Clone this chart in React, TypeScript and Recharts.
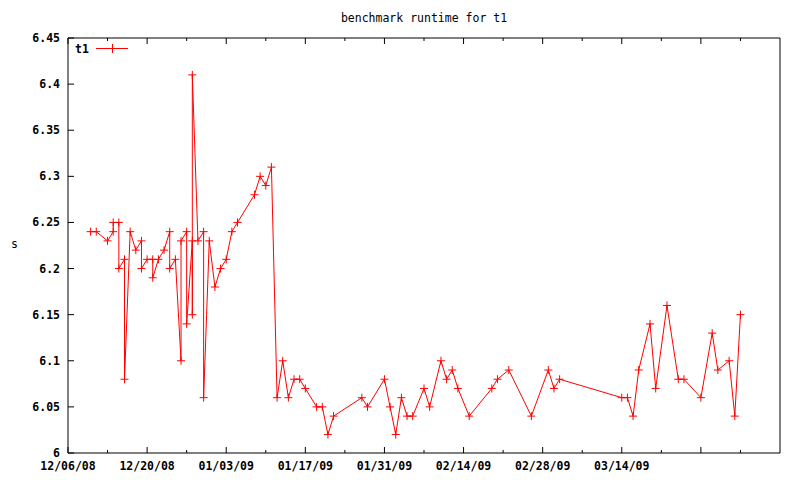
import React from "react";
import { LineChart, Line, XAxis, YAxis, ReferenceArea } from "recharts";

const dates = [
  "2008-12-10", "2008-12-11", "2008-12-13", "2008-12-14", "2008-12-14",
  "2008-12-15", "2008-12-15", "2008-12-16", "2008-12-16", "2008-12-17",
  "2008-12-18", "2008-12-19", "2008-12-19", "2008-12-20", "2008-12-21",
  "2008-12-21", "2008-12-22", "2008-12-23", "2008-12-24", "2008-12-24",
  "2008-12-25", "2008-12-26", "2008-12-26", "2008-12-27", "2008-12-27",
  "2008-12-28", "2008-12-28", "2008-12-28", "2008-12-29", "2008-12-30",
  "2008-12-30", "2008-12-31", "2009-01-01", "2009-01-02", "2009-01-03",
  "2009-01-04", "2009-01-05", "2009-01-08", "2009-01-09", "2009-01-10",
  "2009-01-11", "2009-01-12", "2009-01-13", "2009-01-14", "2009-01-15",
  "2009-01-16", "2009-01-17", "2009-01-19", "2009-01-20", "2009-01-21",
  "2009-01-22", "2009-01-27", "2009-01-28", "2009-01-31", "2009-02-01",
  "2009-02-02", "2009-02-03", "2009-02-04", "2009-02-05", "2009-02-07",
  "2009-02-08", "2009-02-10", "2009-02-11", "2009-02-12", "2009-02-13",
  "2009-02-15", "2009-02-19", "2009-02-20", "2009-02-22", "2009-02-26",
  "2009-03-01", "2009-03-02", "2009-03-03", "2009-03-14", "2009-03-15",
  "2009-03-16", "2009-03-17", "2009-03-19", "2009-03-20", "2009-03-22",
  "2009-03-24", "2009-03-25", "2009-03-28", "2009-03-30", "2009-03-31",
  "2009-04-02", "2009-04-03", "2009-04-04",
];

const runtimes = [
  6.24, 6.24, 6.23, 6.24, 6.25,
  6.25, 6.2, 6.21, 6.08, 6.24,
  6.22, 6.23, 6.2, 6.21, 6.21,
  6.19, 6.21, 6.22, 6.24, 6.2,
  6.21, 6.1, 6.23, 6.24, 6.14,
  6.23, 6.15, 6.41, 6.23, 6.24,
  6.06, 6.23, 6.18, 6.2, 6.21,
  6.24, 6.25, 6.28, 6.3, 6.29,
  6.31, 6.06, 6.1, 6.06, 6.08,
  6.08, 6.07, 6.05, 6.05, 6.02,
  6.04, 6.06, 6.05, 6.08, 6.05,
  6.02, 6.06, 6.04, 6.04, 6.07,
  6.05, 6.1, 6.08, 6.09, 6.07,
  6.04, 6.07, 6.08, 6.09, 6.04,
  6.09, 6.07, 6.08, 6.06, 6.06,
  6.04, 6.09, 6.14, 6.07, 6.16,
  6.08, 6.08, 6.06, 6.13, 6.09,
  6.1, 6.04, 6.15,
];

const startDate = "2008-12-06";
const endDate = "2009-04-11";
const xTickDates = [
  "2008-12-06", "2008-12-20", "2009-01-03", "2009-01-17", "2009-01-31",
  "2009-02-14", "2009-02-28", "2009-03-14", "2009-03-28",
];
const xTickLabels = [
  "12/06/08", "12/20/08", "01/03/09", "01/17/09", "01/31/09",
  "02/14/09", "02/28/09", "03/14/09", "",
];
const yTicks = [6, 6.05, 6.1, 6.15, 6.2, 6.25, 6.3, 6.35, 6.4, 6.45];
const yTickLabels = ["6", "6.05", "6.1", "6.15", "6.2", "6.25", "6.3", "6.35", "6.4", "6.45"];

const DAY = 86400000;
const dayOf = (d: string) => (Date.parse(d) - Date.parse(startDate)) / DAY;

const data = dates.map((d, i) => ({ day: dayOf(d), t1: runtimes[i] }));
const majorTicks = xTickDates.map(dayOf);
const minorTicks = majorTicks.map((t) => t + 7);
const allXTicks = [...majorTicks, ...minorTicks].sort((a, b) => a - b);
const xDomain = [0, dayOf(endDate)];
const yDomain = [6, 6.45];

const FONT = "'DejaVu Sans Mono', monospace";
const RED = "#ff0000";

const BottomTick = (props: any) => {
  const { x, y, payload } = props;
  const i = majorTicks.indexOf(payload.value);
  const len = i >= 0 ? 6 : 3;
  return (
    <g>
      <line x1={x} x2={x} y1={y} y2={y - len} stroke="#000" strokeWidth={1} />
      {i >= 0 && (
        <text x={x} y={y + 17} textAnchor="middle" fontFamily={FONT} fontSize={11.5} fontWeight="bold" fill="#000">
          {xTickLabels[i]}
        </text>
      )}
    </g>
  );
};

const TopTick = (props: any) => {
  const { x, y, payload } = props;
  const len = majorTicks.includes(payload.value) ? 6 : 3;
  return (
    <g>
      <line x1={x} x2={x} y1={y} y2={y + len} stroke="#000" strokeWidth={1} />
    </g>
  );
};

const LeftTick = (props: any) => {
  const { x, y, payload } = props;
  const i = yTicks.indexOf(payload.value);
  return (
    <g>
      <line x1={x} x2={x + 6} y1={y} y2={y} stroke="#000" strokeWidth={1} />
      <text x={x - 8} y={y + 4} textAnchor="end" fontFamily={FONT} fontSize={11.5} fontWeight="bold" fill="#000">
        {yTickLabels[i]}
      </text>
    </g>
  );
};

const RightTick = (props: any) => {
  const { x, y } = props;
  return (
    <g>
      <line x1={x} x2={x - 6} y1={y} y2={y} stroke="#000" strokeWidth={1} />
    </g>
  );
};

const PlusDot = (props: any) => {
  const { cx, cy, index } = props;
  if (cx == null || cy == null) return <g key={index} />;
  return (
    <path
      key={index}
      d={`M${cx - 4},${cy}H${cx + 4}M${cx},${cy - 4}V${cy + 4}`}
      stroke={RED}
      strokeWidth={1}
      fill="none"
    />
  );
};

export default function App() {
  return (
    <div style={{ position: "absolute", left: 0, top: 0, width: 800, height: 480, background: "#fff" }}>
      <div
        style={{
          position: "absolute",
          left: 68,
          width: 712,
          top: 11,
          textAlign: "center",
          fontFamily: FONT,
          fontSize: 11.5,
        }}
      >
        benchmark runtime for t1
      </div>
      <div style={{ position: "absolute", left: 11, top: 237, fontFamily: FONT, fontSize: 11.5 }}>s</div>
      <LineChart width={800} height={480} data={data} margin={{ top: 37, right: 19, bottom: 26, left: 8 }}>
        <XAxis
          xAxisId="bottom"
          dataKey="day"
          type="number"
          domain={xDomain}
          ticks={allXTicks}
          interval={0}
          height={1}
          tickSize={0}
          tickMargin={0}
          tickLine={false}
          tick={<BottomTick />}
          axisLine={false}
        />
        <XAxis
          xAxisId="top"
          orientation="top"
          dataKey="day"
          type="number"
          domain={xDomain}
          ticks={allXTicks}
          interval={0}
          height={1}
          tickSize={0}
          tickMargin={0}
          tickLine={false}
          tick={<TopTick />}
          axisLine={false}
        />
        <YAxis
          yAxisId="left"
          type="number"
          domain={yDomain}
          ticks={yTicks}
          interval={0}
          width={60}
          tickSize={0}
          tickMargin={0}
          tickLine={false}
          tick={<LeftTick />}
          axisLine={false}
        />
        <YAxis
          yAxisId="right"
          orientation="right"
          type="number"
          domain={yDomain}
          ticks={yTicks}
          interval={0}
          width={1}
          tickSize={0}
          tickMargin={0}
          tickLine={false}
          tick={<RightTick />}
          axisLine={false}
        />
        <ReferenceArea
          xAxisId="bottom"
          yAxisId="left"
          x1={xDomain[0]}
          x2={xDomain[1]}
          y1={yDomain[0]}
          y2={yDomain[1]}
          fill="none"
          fillOpacity={0}
          stroke="#000"
          strokeWidth={1}
          strokeOpacity={1}
          ifOverflow="visible"
        />
        <Line
          xAxisId="bottom"
          yAxisId="left"
          dataKey="t1"
          type="linear"
          stroke={RED}
          strokeWidth={1}
          dot={PlusDot}
          activeDot={false}
          isAnimationActive={false}
        />
      </LineChart>
      <div
        style={{
          position: "absolute",
          left: 75,
          top: 42,
          fontFamily: FONT,
          fontSize: 11.5,
          fontWeight: "bold",
          lineHeight: "14px",
          zIndex: 5,
        }}
      >
        t1
      </div>
      <div style={{ position: "absolute", left: 96, top: 48, width: 32, height: 1, background: RED, zIndex: 5 }} />
      <div style={{ position: "absolute", left: 112, top: 44, width: 1, height: 9, background: RED, zIndex: 5 }} />
    </div>
  );
}
